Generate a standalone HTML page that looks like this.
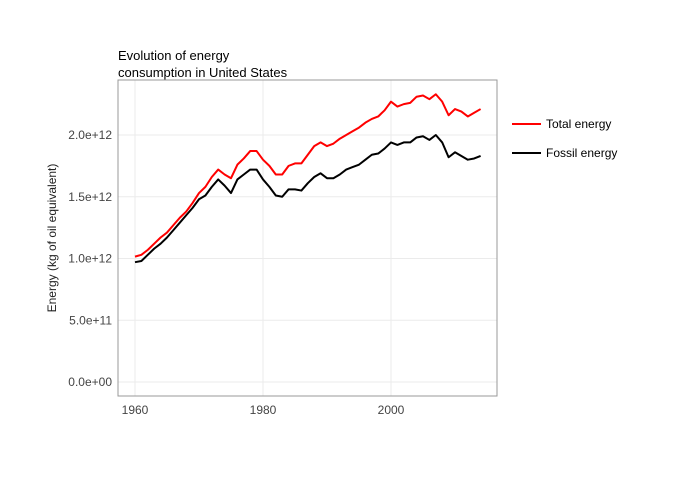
<!DOCTYPE html>
<html><head><meta charset="utf-8"><style>
body{margin:0;background:#fff;font-family:"Liberation Sans",sans-serif;}
text{font-family:"Liberation Sans",sans-serif;}
</style></head><body>
<svg id="c" width="680" height="480"></svg>
<script>
const years=[];for(let y=1960;y<=2014;y++)years.push(y);
const totalEnergy=[1.015,1.03,1.07,1.12,1.17,1.21,1.27,1.33,1.38,1.45,1.53,1.58,1.66,1.72,1.68,1.65,1.76,1.81,1.87,1.87,1.80,1.75,1.68,1.68,1.75,1.77,1.77,1.84,1.91,1.94,1.91,1.93,1.97,2.00,2.03,2.06,2.10,2.13,2.15,2.20,2.27,2.23,2.25,2.26,2.31,2.32,2.29,2.33,2.27,2.16,2.21,2.19,2.15,2.18,2.21];
const fossilEnergy=[0.97,0.98,1.03,1.08,1.12,1.17,1.23,1.29,1.35,1.41,1.48,1.51,1.58,1.64,1.59,1.53,1.64,1.68,1.72,1.72,1.64,1.58,1.51,1.50,1.56,1.56,1.55,1.61,1.66,1.69,1.65,1.65,1.68,1.72,1.74,1.76,1.80,1.84,1.85,1.89,1.94,1.92,1.94,1.94,1.98,1.99,1.96,2.00,1.94,1.82,1.86,1.83,1.80,1.81,1.83];
const yTicks=[0,0.5,1.0,1.5,2.0];
const yTickLabels=["0.0e+00","5.0e+11","1.0e+12","1.5e+12","2.0e+12"];
const xTicks=[1960,1980,2000];
const L=118,R=497,T=80,B=396;
const X=v=>135+(v-1960)*6.4;
const Y=v=>382-v*123.5;
const s=document.getElementById('c');const NS="http://www.w3.org/2000/svg";
function el(t,a,txt){const e=document.createElementNS(NS,t);for(const k in a)e.setAttribute(k,a[k]);if(txt!==undefined)e.textContent=txt;s.appendChild(e);return e;}
yTicks.forEach((v,i)=>{
 const g=el('line',{x1:L,x2:R,y1:Y(v),y2:Y(v),stroke:'#ebebeb','stroke-width':1});
 
 const t=el('text',{x:L-6,y:Y(v)+4,'text-anchor':'end','font-size':12,fill:'#444'},yTickLabels[i]);
 
});
xTicks.forEach(v=>{
 const g=el('line',{x1:X(v),x2:X(v),y1:T,y2:B,stroke:'#ebebeb','stroke-width':1});
 
 const t=el('text',{x:X(v),y:B+18,'text-anchor':'middle','font-size':12,fill:'#444'},String(v));
 
});
const box=el('rect',{x:L,y:T,width:R-L,height:B-T,fill:'none',stroke:'#999','stroke-width':1});

function line(data,color,name){
 const p=el('polyline',{points:data.map((v,i)=>X(years[i])+','+Y(v)).join(' '),fill:'none',stroke:color,'stroke-width':2,'stroke-linejoin':'round'});
 
}
line(totalEnergy,'#ff0000','total-energy-line');
line(fossilEnergy,'#000000','fossil-energy-line');
const t1=el('text',{x:118,y:60,'font-size':13,fill:'#000'},'Evolution of energy');

const t2=el('text',{x:118,y:77,'font-size':13,fill:'#000'},'consumption in United States');

const yt=el('text',{x:0,y:0,'font-size':12,fill:'#222','text-anchor':'middle',transform:'translate(56,238) rotate(-90)'},'Energy (kg of oil equivalent)');

[['Total energy','#ff0000',124],['Fossil energy','#000',153]].forEach(([n,c,y])=>{
 const l=el('line',{x1:512,x2:541,y1:y,y2:y,stroke:c,'stroke-width':2});
 
 const t=el('text',{x:546,y:y+4,'font-size':12,fill:'#000'},n);
 
});
</script>
</body></html>
